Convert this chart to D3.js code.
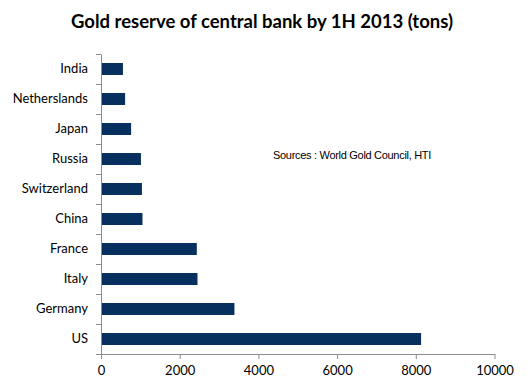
<!DOCTYPE html>
<html>
<head>
<meta charset="UTF-8">
<script src="https://d3js.org/d3.v7.min.js"></script>
<style>
  body { margin: 0; background: #fff; }
  svg text { font-family: Lato, "Open Sans", sans-serif; fill: #000; }
</style>
</head>
<body>
<svg id="chart"></svg>
<script>
// data (tons)
var countries = ["India", "Netherslands", "Japan", "Russia", "Switzerland",
                 "China", "France", "Italy", "Germany", "US"];
var tons = [558, 613, 765, 1015, 1040, 1054, 2435, 2452, 3391, 8134];
var xTicks = [0, 2000, 4000, 6000, 8000, 10000];

var width = 530, height = 384;
var margin = {top: 54, left: 101, right: 36, bottom: 30};

var svg = d3.select("#chart")
    .attr("width", width)
    .attr("height", height);

var x = d3.scaleLinear()
    .domain([0, 10000])
    .range([margin.left, width - margin.right + 0.5]);

var y = d3.scaleBand()
    .domain(countries)
    .range([margin.top, height - margin.bottom])
    .paddingInner(0.6)
    .paddingOuter(0.3);

// title
svg.append("text")
    .attr("x", 262)
    .attr("y", 28)
    .attr("text-anchor", "middle")
    .style("font-size", "18.5px")
    .style("font-weight", "bold")
    .text("Gold reserve of central bank by 1H 2013 (tons)");

// bars
svg.append("g")
    .selectAll("rect")
    .data(countries)
    .enter().append("rect")
    .attr("x", x(0) + 1)
    .attr("y", d => y(d))
    .attr("width", (d, i) => x(tons[i]) - x(0) - 1)
    .attr("height", y.bandwidth())
    .attr("fill", "#08305e");

// y axis (categories)
var yAxis = svg.append("g")
    .attr("transform", `translate(${x(0)},0)`)
    .call(d3.axisLeft(y).tickSize(0).tickPadding(13));
yAxis.select(".domain").attr("stroke", "#8c8c8c");
yAxis.selectAll("text").style("font-size", "13px");

// category separators on the left of the axis
var step = y.step();
var seps = d3.range(countries.length + 1).map(i => margin.top + i * step);
svg.append("g")
    .selectAll("line")
    .data(seps)
    .enter().append("line")
    .attr("x1", x(0) - 5)
    .attr("x2", x(0))
    .attr("y1", d => d + 0.5)
    .attr("y2", d => d + 0.5)
    .attr("stroke", "#8c8c8c");

// x axis
var xAxis = svg.append("g")
    .attr("transform", `translate(0,${height - margin.bottom})`)
    .call(d3.axisBottom(x).tickValues(xTicks).tickFormat(d3.format("d"))
        .tickSize(5).tickPadding(7).tickSizeOuter(0));
xAxis.select(".domain").attr("stroke", "#8c8c8c");
xAxis.selectAll(".tick line").attr("stroke", "#8c8c8c");
xAxis.selectAll("text").style("font-size", "13px");

// source note
svg.append("text")
    .attr("x", 273)
    .attr("y", 159)
    .style("font-family", "'Liberation Sans', Arial, sans-serif")
    .style("font-size", "11px")
    .style("letter-spacing", "-0.3px")
    .text("Sources : World Gold Council, HTI");
</script>
</body>
</html>
